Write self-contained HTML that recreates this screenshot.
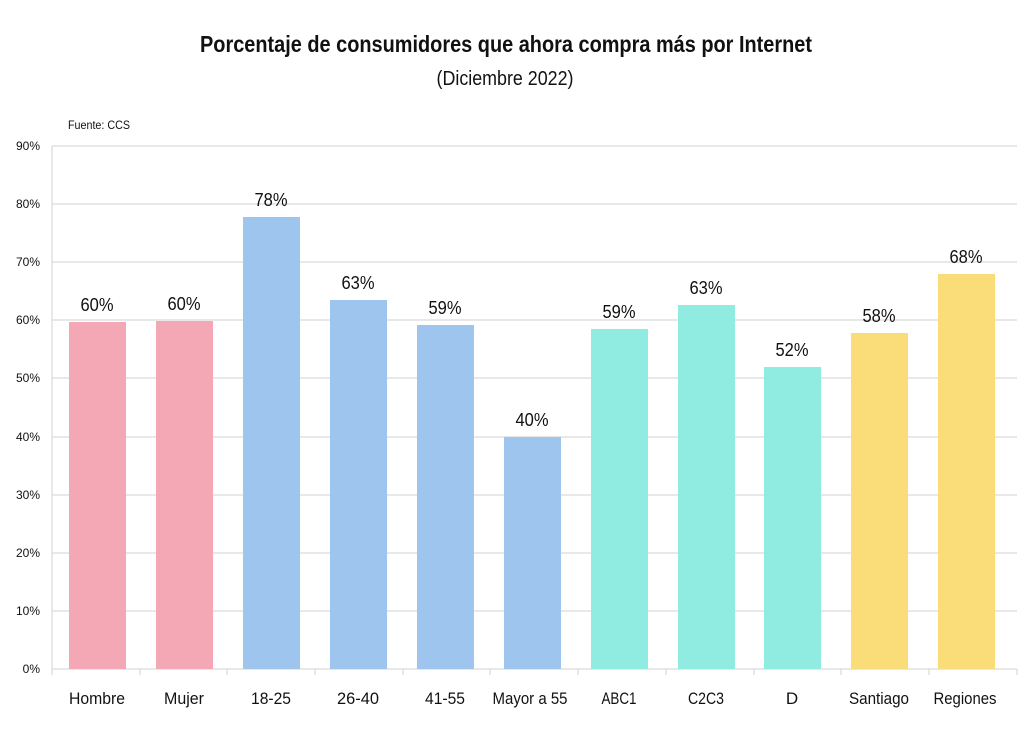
<!DOCTYPE html>
<html><head><meta charset="utf-8"><style>
html,body{margin:0;padding:0;background:#fff;}
svg text{font-family:"Liberation Sans Narrow","Liberation Sans",sans-serif;fill:#111;}
</style></head><body>
<svg width="1024" height="730" viewBox="0 0 1024 730" xmlns="http://www.w3.org/2000/svg">
<text x="506" y="52" text-anchor="middle" font-size="23" font-weight="bold" textLength="612" lengthAdjust="spacingAndGlyphs">Porcentaje de consumidores que ahora compra más por Internet</text>
<text x="505" y="85" text-anchor="middle" font-size="20" textLength="137" lengthAdjust="spacingAndGlyphs">(Diciembre 2022)</text>
<text x="68" y="129" font-size="12" textLength="62" lengthAdjust="spacingAndGlyphs">Fuente: CCS</text>
<g stroke="#d9d9d9" stroke-width="1.2">
<line x1="52" y1="146" x2="1017" y2="146"/><line x1="52" y1="204" x2="1017" y2="204"/>
<line x1="52" y1="262" x2="1017" y2="262"/><line x1="52" y1="320" x2="1017" y2="320"/>
<line x1="52" y1="378" x2="1017" y2="378"/><line x1="52" y1="437" x2="1017" y2="437"/>
<line x1="52" y1="495" x2="1017" y2="495"/><line x1="52" y1="553" x2="1017" y2="553"/>
<line x1="52" y1="611" x2="1017" y2="611"/><line x1="52" y1="669" x2="1017" y2="669"/>
<line x1="52" y1="146" x2="52" y2="669"/>
<line x1="52" y1="669" x2="52" y2="675"/><line x1="140" y1="669" x2="140" y2="675"/><line x1="227" y1="669" x2="227" y2="675"/><line x1="315" y1="669" x2="315" y2="675"/><line x1="403" y1="669" x2="403" y2="675"/><line x1="490" y1="669" x2="490" y2="675"/><line x1="578" y1="669" x2="578" y2="675"/><line x1="666" y1="669" x2="666" y2="675"/><line x1="754" y1="669" x2="754" y2="675"/><line x1="841" y1="669" x2="841" y2="675"/><line x1="929" y1="669" x2="929" y2="675"/><line x1="1017" y1="669" x2="1017" y2="675"/>
</g>
<g font-size="12" text-anchor="end">
<text x="40" y="150">90%</text><text x="40" y="208">80%</text><text x="40" y="266">70%</text><text x="40" y="324">60%</text><text x="40" y="382">50%</text><text x="40" y="441">40%</text><text x="40" y="499">30%</text><text x="40" y="557">20%</text><text x="40" y="615">10%</text><text x="40" y="673">0%</text>
</g>
<rect x="69" y="322" width="57" height="347" fill="#f4a8b6"/>
<rect x="156" y="321" width="57" height="348" fill="#f4a8b6"/>
<rect x="243" y="217" width="57" height="452" fill="#9ec5ee"/>
<rect x="330" y="300" width="57" height="369" fill="#9ec5ee"/>
<rect x="417" y="325" width="57" height="344" fill="#9ec5ee"/>
<rect x="504" y="437" width="57" height="232" fill="#9ec5ee"/>
<rect x="591" y="329" width="57" height="340" fill="#90ece0"/>
<rect x="678" y="305" width="57" height="364" fill="#90ece0"/>
<rect x="764" y="367" width="57" height="302" fill="#90ece0"/>
<rect x="851" y="333" width="57" height="336" fill="#fadc78"/>
<rect x="938" y="274" width="57" height="395" fill="#fadc78"/>
<g font-size="18" text-anchor="middle">
<text x="97" y="311" textLength="33" lengthAdjust="spacingAndGlyphs">60%</text><text x="184" y="310" textLength="33" lengthAdjust="spacingAndGlyphs">60%</text><text x="271" y="206" textLength="33" lengthAdjust="spacingAndGlyphs">78%</text><text x="358" y="289" textLength="33" lengthAdjust="spacingAndGlyphs">63%</text><text x="445" y="314" textLength="33" lengthAdjust="spacingAndGlyphs">59%</text><text x="532" y="426" textLength="33" lengthAdjust="spacingAndGlyphs">40%</text><text x="619" y="318" textLength="33" lengthAdjust="spacingAndGlyphs">59%</text><text x="706" y="294" textLength="33" lengthAdjust="spacingAndGlyphs">63%</text><text x="792" y="356" textLength="33" lengthAdjust="spacingAndGlyphs">52%</text><text x="879" y="322" textLength="33" lengthAdjust="spacingAndGlyphs">58%</text><text x="966" y="263" textLength="33" lengthAdjust="spacingAndGlyphs">68%</text>
</g>
<g font-size="17" text-anchor="middle">
<text x="97" y="704" textLength="56" lengthAdjust="spacingAndGlyphs">Hombre</text><text x="184" y="704" textLength="40" lengthAdjust="spacingAndGlyphs">Mujer</text><text x="271" y="704" textLength="40" lengthAdjust="spacingAndGlyphs">18-25</text><text x="358" y="704" textLength="42" lengthAdjust="spacingAndGlyphs">26-40</text><text x="445" y="704" textLength="40" lengthAdjust="spacingAndGlyphs">41-55</text><text x="530" y="704" textLength="75" lengthAdjust="spacingAndGlyphs">Mayor a 55</text><text x="619" y="704" textLength="35" lengthAdjust="spacingAndGlyphs">ABC1</text><text x="706" y="704" textLength="36" lengthAdjust="spacingAndGlyphs">C2C3</text><text x="792" y="704">D</text><text x="879" y="704" textLength="60" lengthAdjust="spacingAndGlyphs">Santiago</text><text x="965" y="704" textLength="63" lengthAdjust="spacingAndGlyphs">Regiones</text>
</g>
</svg>
</body></html>
